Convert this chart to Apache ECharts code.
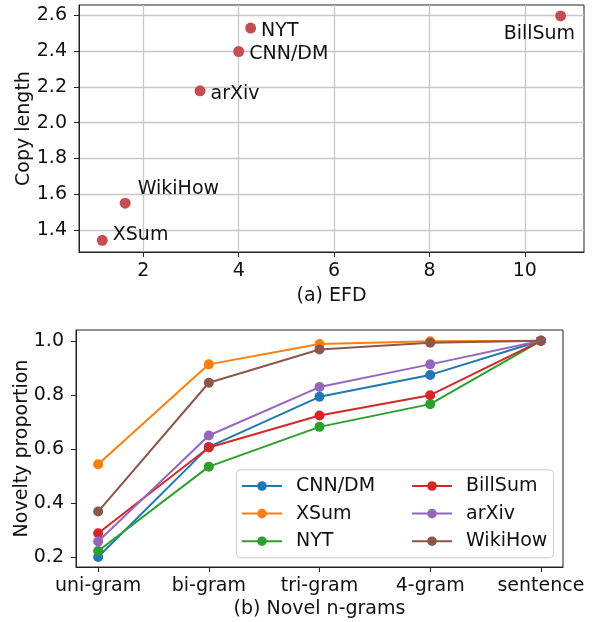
<!DOCTYPE html>
<html><head><meta charset="utf-8">
<script src="https://cdn.jsdelivr.net/npm/echarts@6/dist/echarts.min.js"></script>
<style>html,body{margin:0;padding:0;background:#fff}#c{width:592px;height:622px}</style>
</head><body><div id="c"></div>
<script>
// ---- data ----
const datasets = ['CNN/DM', 'XSum', 'NYT', 'BillSum', 'arXiv', 'WikiHow'];
const efd = [4.00, 1.14, 4.25, 10.75, 3.19, 1.62];
const copyLength = [2.398, 1.342, 2.529, 2.597, 2.178, 1.55];
const efdTicks = [2, 4, 6, 8, 10];
const copyTicks = [1.4, 1.6, 1.8, 2.0, 2.2, 2.4, 2.6];

const ngramCategories = ['uni-gram', 'bi-gram', 'tri-gram', '4-gram', 'sentence'];
const noveltyTicks = [0.2, 0.4, 0.6, 0.8, 1.0];
const noveltyCNNDM   = [0.201, 0.608, 0.793, 0.874, 1.0];
const noveltyXSum    = [0.544, 0.913, 0.988, 0.998, 1.0];
const noveltyNYT     = [0.223, 0.535, 0.682, 0.766, 1.0];
const noveltyBillSum = [0.289, 0.606, 0.724, 0.799, 1.0];
const noveltyArXiv   = [0.258, 0.650, 0.829, 0.913, 1.0];
const noveltyWikiHow = [0.369, 0.845, 0.968, 0.993, 1.0];

// ---- styling ----
const FONT = 'DejaVu Sans';
const FS = 19;
const lineColors = {
  'CNN/DM': '#1f77b4', 'XSum': '#ff7f0e', 'NYT': '#2ca02c',
  'BillSum': '#d62728', 'arXiv': '#9467bd', 'WikiHow': '#8c564b'
};
const labelPlacement = {
  'CNN/DM': { position: 'right', offset: [0, 3] },
  'XSum': { position: 'right', offset: [0, -5] },
  'NYT': { position: 'right', offset: [0, 3] },
  'BillSum': { position: 'left', offset: [25, 18] },
  'arXiv': { position: 'right', offset: [0, 3] },
  'WikiHow': { position: 'right', offset: [2, -14] }
};
const noveltySeries = [
  ['CNN/DM', noveltyCNNDM], ['XSum', noveltyXSum], ['NYT', noveltyNYT],
  ['BillSum', noveltyBillSum], ['arXiv', noveltyArXiv], ['WikiHow', noveltyWikiHow]
];

const axisColor = '#222';
const labelText = { color: '#111', fontFamily: FONT, fontSize: FS };

const chart = echarts.init(document.getElementById('c'), null, { renderer: 'canvas' });

const option = {
  animation: false,
  backgroundColor: '#fff',
  textStyle: { fontFamily: FONT },
  grid: [
    { left: 79, top: 5, width: 505, height: 247, show: true, borderColor: axisColor, borderWidth: 1, backgroundColor: 'transparent' },
    { left: 76, top: 330, width: 487, height: 237, show: true, borderColor: axisColor, borderWidth: 1, backgroundColor: 'transparent' }
  ],
  xAxis: [
    {
      gridIndex: 0, type: 'value', min: 0.652, max: 11.24,
      name: '(a) EFD', nameLocation: 'middle', nameGap: 35, nameMoveOverlap: false,
      nameTextStyle: labelText,
      axisLine: { show: true, onZero: false, lineStyle: { color: axisColor } },
      axisTick: { show: true, length: 5, customValues: efdTicks, lineStyle: { color: axisColor } },
      axisLabel: Object.assign({ customValues: efdTicks, margin: 10, formatter: v => String(v) }, labelText),
      splitLine: { show: true, lineStyle: { color: '#c8c8c8', width: 1.3 } }
    },
    {
      gridIndex: 1, type: 'value', min: -0.2, max: 4.2,
      name: '(b) Novel n-grams', nameLocation: 'middle', nameGap: 33, nameMoveOverlap: false,
      nameTextStyle: labelText,
      axisLine: { show: true, onZero: false, lineStyle: { color: axisColor } },
      axisTick: { show: true, length: 5, customValues: [0, 1, 2, 3, 4], lineStyle: { color: axisColor } },
      axisLabel: Object.assign({ customValues: [0, 1, 2, 3, 4], margin: 10, formatter: v => ngramCategories[Math.round(v)] }, labelText),
      splitLine: { show: false }
    }
  ],
  yAxis: [
    {
      gridIndex: 0, type: 'value', min: 1.277, max: 2.658,
      name: 'Copy length', nameLocation: 'middle', nameGap: 45, nameMoveOverlap: false,
      nameTextStyle: labelText,
      axisLine: { show: true, onZero: false, lineStyle: { color: axisColor } },
      axisTick: { show: true, length: 5, customValues: copyTicks, lineStyle: { color: axisColor } },
      axisLabel: Object.assign({ customValues: copyTicks, margin: 12, formatter: v => v.toFixed(1) }, labelText),
      splitLine: { show: true, lineStyle: { color: '#c8c8c8', width: 1.3 } }
    },
    {
      gridIndex: 1, type: 'value', min: 0.164, max: 1.04,
      name: 'Novelty proportion', nameLocation: 'middle', nameGap: 44, nameMoveOverlap: false,
      nameTextStyle: labelText,
      axisLine: { show: true, onZero: false, lineStyle: { color: axisColor } },
      axisTick: { show: true, length: 5, customValues: noveltyTicks, lineStyle: { color: axisColor } },
      axisLabel: Object.assign({ customValues: noveltyTicks, margin: 12, formatter: v => v.toFixed(1) }, labelText),
      splitLine: { show: false }
    }
  ],
  legend: [
    {
      data: ['CNN/DM', 'XSum', 'NYT'], orient: 'vertical', left: 241, top: 475,
      itemWidth: 40, itemHeight: 12, itemGap: 5.6, padding: 0,
      textStyle: { color: '#111', fontFamily: FONT, fontSize: FS, lineHeight: 22, padding: [0, 0, 0, 9] },
      selectedMode: false, z: 10
    },
    {
      data: ['BillSum', 'arXiv', 'WikiHow'], orient: 'vertical', left: 411, top: 475,
      itemWidth: 40, itemHeight: 12, itemGap: 5.6, padding: 0,
      textStyle: { color: '#111', fontFamily: FONT, fontSize: FS, lineHeight: 22, padding: [0, 0, 0, 9] },
      selectedMode: false, z: 10
    }
  ],
  graphic: [
    {
      type: 'rect', left: 236, top: 469.3, z: 5,
      shape: { width: 317, height: 88, r: 4 },
      style: { fill: 'rgba(255,255,255,0.8)', stroke: '#cccccc', lineWidth: 1 }
    }
  ],
  series: [
    {
      type: 'scatter', xAxisIndex: 0, yAxisIndex: 0, symbolSize: 11,
      itemStyle: { color: '#c44e52', opacity: 1 },
      data: datasets.map((n, i) => ({
        name: n, value: [efd[i], copyLength[i]],
        label: {
          show: true, formatter: n, distance: 5,
          position: labelPlacement[n].position, offset: labelPlacement[n].offset,
          color: '#111', fontFamily: FONT, fontSize: FS
        }
      }))
    }
  ].concat(noveltySeries.map(([n, vals]) => ({
    type: 'line', name: n, xAxisIndex: 1, yAxisIndex: 1,
    symbol: 'circle', symbolSize: 10, showSymbol: true,
    color: lineColors[n],
    lineStyle: { width: 2, color: lineColors[n] },
    itemStyle: { color: lineColors[n] },
    data: vals.map((v, i) => [i, v])
  })))
};
chart.setOption(option);
</script>
</body></html>
